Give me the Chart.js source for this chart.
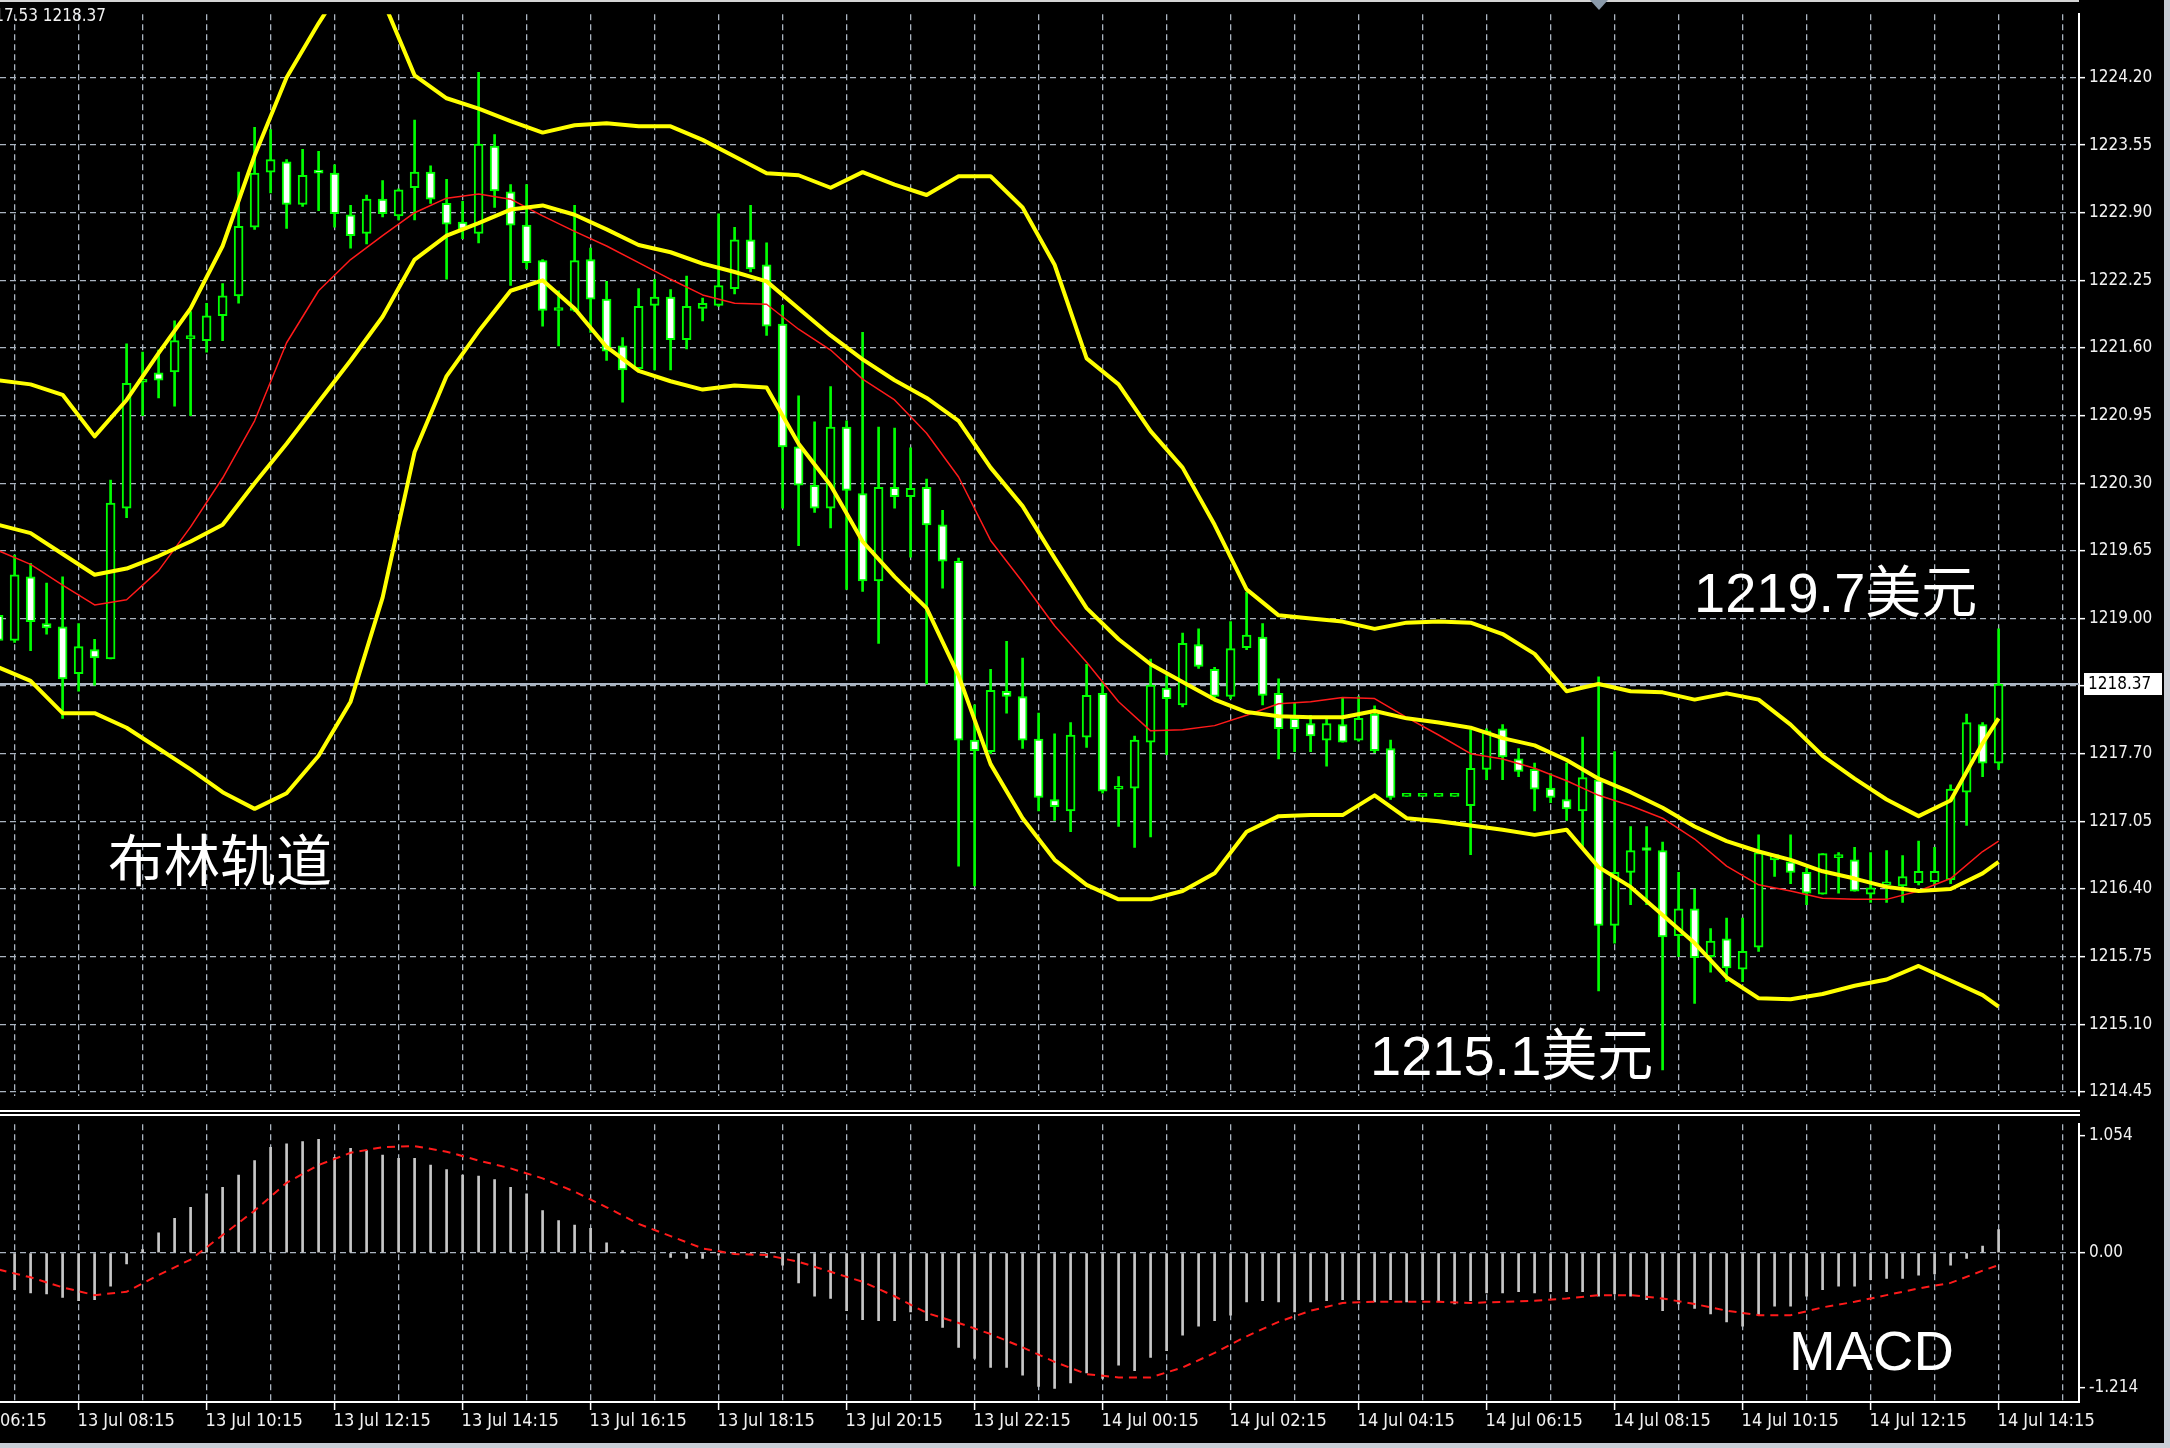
<!DOCTYPE html>
<html lang="zh">
<head>
<meta charset="utf-8">
<title>XAUUSD M15 布林轨道 MACD</title>
<script src="https://cdn.jsdelivr.net/npm/chart.js@4.4.1/dist/chart.umd.min.js"></script>
<style>
  html, body { margin: 0; padding: 0; background: #000; }
  #frame { position: relative; width: 2170px; height: 1448px; background: #000; overflow: hidden; }
  #priceChart { position: absolute; left: 0; top: 0; }
  #macdChart { position: absolute; left: 0; top: 1110px; }
  #edgeRight { position: absolute; left: 2164px; top: 0; width: 6px; height: 1448px; background: #c9ced6; }
  #edgeBottom { position: absolute; left: 0; top: 1443px; width: 2170px; height: 5px; background: #c9ced6; }
</style>
</head>
<body>
<div id="frame">
  <canvas id="priceChart" width="2170" height="1110"></canvas>
  <canvas id="macdChart" width="2170" height="338"></canvas>
  <div id="edgeRight"></div>
  <div id="edgeBottom"></div>
</div>
<script>
/* XAUUSD M15: 蜡烛图 + 布林轨道 + MACD，两块面板共用同一根时间轴（K线序号） */

// K线：13 Jul 07:00 起，每根 15 分钟，最后一根 14 Jul 14:15
const opens = [
  1219.03, 1218.79, 1219.40, 1218.95, 1218.92, 1218.47, 1218.70, 1218.61, 1220.06, 1221.27,
  1221.36, 1221.37, 1221.69, 1221.67, 1221.91, 1222.10, 1222.76, 1223.29, 1223.39, 1222.98,
  1223.29, 1223.28, 1222.88, 1222.70, 1223.03, 1222.87, 1223.14, 1223.29, 1222.99, 1222.81,
  1222.70, 1223.54, 1223.10, 1222.78, 1222.44, 1221.96, 1221.96, 1222.45, 1222.07, 1221.62,
  1221.40, 1222.01, 1222.09, 1221.68, 1221.98, 1222.01, 1222.17, 1222.64, 1222.40, 1221.83,
  1220.65, 1220.28, 1220.06, 1220.84, 1220.20, 1219.36, 1220.26, 1220.17, 1220.26, 1219.90,
  1219.55, 1217.83, 1217.72, 1218.30, 1218.25, 1217.84, 1217.26, 1217.15, 1217.86, 1218.28,
  1217.36, 1217.37, 1217.81, 1218.33, 1218.17, 1218.75, 1218.51, 1218.25, 1218.72, 1218.82,
  1218.28, 1218.04, 1217.99, 1217.83, 1217.98, 1217.83, 1218.08, 1217.75, 1217.29, 1217.29,
  1217.29, 1217.29, 1217.20, 1217.55, 1217.94, 1217.65, 1217.55, 1217.37, 1217.26, 1217.15,
  1217.45, 1216.05, 1216.56, 1216.79, 1216.77, 1215.95, 1216.21, 1215.75, 1215.92, 1215.63,
  1215.84, 1216.68, 1216.66, 1216.56, 1216.35, 1216.70, 1216.68, 1216.35, 1216.44, 1216.43,
  1216.46, 1216.47, 1216.49, 1217.33, 1217.98, 1217.61
];
const highs = [
  1219.10, 1219.61, 1219.53, 1219.34, 1219.40, 1218.95, 1218.80, 1220.33, 1221.64, 1221.56,
  1221.58, 1221.86, 1221.95, 1222.03, 1222.22, 1223.29, 1223.72, 1223.70, 1223.41, 1223.51,
  1223.49, 1223.36, 1222.97, 1223.07, 1223.21, 1223.13, 1223.79, 1223.35, 1223.22, 1223.01,
  1224.25, 1223.65, 1223.17, 1223.17, 1222.45, 1222.15, 1222.97, 1222.56, 1222.24, 1221.70,
  1222.17, 1222.26, 1222.16, 1222.29, 1222.08, 1222.89, 1222.76, 1222.97, 1222.61, 1222.01,
  1221.14, 1220.89, 1221.23, 1220.90, 1221.75, 1220.84, 1220.83, 1220.64, 1220.34, 1220.04,
  1219.58, 1218.17, 1218.51, 1218.78, 1218.62, 1218.09, 1217.89, 1218.00, 1218.56, 1218.39,
  1217.48, 1217.87, 1218.61, 1218.45, 1218.86, 1218.90, 1218.53, 1218.97, 1219.25, 1218.95,
  1218.42, 1218.19, 1218.07, 1218.06, 1218.24, 1218.25, 1218.16, 1217.83, 1217.29, 1217.29,
  1217.29, 1217.29, 1217.93, 1217.94, 1217.98, 1217.75, 1217.61, 1217.51, 1217.61, 1217.86,
  1218.44, 1217.72, 1217.00, 1217.00, 1216.85, 1216.56, 1216.40, 1216.02, 1216.12, 1216.12,
  1216.92, 1216.73, 1216.92, 1216.60, 1216.74, 1216.75, 1216.80, 1216.75, 1216.77, 1216.72,
  1216.86, 1216.80, 1217.40, 1218.08, 1218.00, 1218.90
];
const lows = [
  1218.75, 1218.77, 1218.69, 1218.85, 1218.04, 1218.30, 1218.36, 1218.61, 1219.97, 1220.95,
  1221.12, 1221.04, 1220.95, 1221.56, 1221.67, 1222.03, 1222.74, 1223.09, 1222.75, 1222.96,
  1222.92, 1222.76, 1222.56, 1222.60, 1222.86, 1222.83, 1222.83, 1222.99, 1222.26, 1222.65,
  1222.61, 1222.95, 1222.20, 1222.36, 1221.81, 1221.62, 1221.95, 1221.75, 1221.48, 1221.08,
  1221.39, 1221.39, 1221.39, 1221.59, 1221.86, 1222.00, 1222.12, 1222.33, 1221.72, 1220.06,
  1219.70, 1220.02, 1219.87, 1219.28, 1219.26, 1218.76, 1220.06, 1219.59, 1218.37, 1219.29,
  1216.62, 1216.43, 1217.70, 1218.09, 1217.75, 1217.15, 1217.06, 1216.95, 1217.76, 1217.32,
  1217.00, 1216.80, 1216.90, 1217.69, 1218.15, 1218.52, 1218.24, 1218.23, 1218.70, 1218.17,
  1217.65, 1217.72, 1217.72, 1217.58, 1217.81, 1217.82, 1217.71, 1217.26, 1217.29, 1217.29,
  1217.29, 1217.29, 1216.73, 1217.45, 1217.45, 1217.48, 1217.15, 1217.23, 1217.06, 1216.80,
  1215.42, 1215.88, 1216.25, 1216.25, 1214.66, 1215.75, 1215.30, 1215.60, 1215.51, 1215.51,
  1215.80, 1216.52, 1216.45, 1216.25, 1216.35, 1216.36, 1216.38, 1216.27, 1216.27, 1216.27,
  1216.44, 1216.44, 1216.45, 1217.01, 1217.48, 1217.55
];
const closes = [
  1218.79, 1219.42, 1218.97, 1218.91, 1218.42, 1218.73, 1218.62, 1220.11, 1221.26, 1221.29,
  1221.29, 1221.67, 1221.70, 1221.91, 1222.10, 1222.77, 1223.28, 1223.41, 1222.98, 1223.26,
  1223.28, 1222.89, 1222.68, 1223.03, 1222.89, 1223.12, 1223.29, 1223.03, 1222.79, 1222.74,
  1223.56, 1223.11, 1222.78, 1222.42, 1221.96, 1221.96, 1222.44, 1222.07, 1221.57, 1221.39,
  1222.00, 1222.09, 1221.68, 1222.00, 1222.03, 1222.20, 1222.64, 1222.36, 1221.81, 1220.65,
  1220.28, 1220.06, 1220.84, 1220.23, 1219.36, 1220.26, 1220.17, 1220.25, 1219.90, 1219.55,
  1217.83, 1217.73, 1218.31, 1218.25, 1217.83, 1217.28, 1217.19, 1217.88, 1218.26, 1217.34,
  1217.36, 1217.83, 1218.36, 1218.23, 1218.76, 1218.54, 1218.25, 1218.71, 1218.84, 1218.26,
  1217.94, 1217.94, 1217.87, 1217.99, 1217.81, 1218.04, 1217.73, 1217.28, 1217.29, 1217.29,
  1217.29, 1217.29, 1217.56, 1217.92, 1217.67, 1217.53, 1217.36, 1217.28, 1217.17, 1217.47,
  1216.05, 1216.56, 1216.77, 1216.77, 1215.94, 1216.21, 1215.74, 1215.90, 1215.64, 1215.80,
  1216.75, 1216.73, 1216.56, 1216.36, 1216.74, 1216.73, 1216.38, 1216.41, 1216.44, 1216.52,
  1216.57, 1216.57, 1217.36, 1218.00, 1217.61, 1218.37
];

// 指标线按每两根K线读取一次
const bandBars = [
  0, 2, 4, 6, 8, 10, 12, 14, 16, 18, 20, 22, 24, 26, 28, 30, 32, 34, 36, 38,
  40, 42, 44, 46, 48, 50, 52, 54, 56, 58, 60, 62, 64, 66, 68, 70, 72, 74, 76, 78,
  80, 82, 84, 86, 88, 90, 92, 94, 96, 98, 100, 102, 104, 106, 108, 110, 112, 114, 116, 118,
  120, 122, 124, 125
];
const upperBand = [
  1221.29, 1221.25, 1221.15, 1220.75, 1221.10, 1221.55, 1221.98, 1222.58, 1223.45, 1224.20,
  1224.72, 1225.20, 1224.95, 1224.22, 1224.00, 1223.90, 1223.78, 1223.67, 1223.74, 1223.76,
  1223.73, 1223.73, 1223.60, 1223.44, 1223.28, 1223.26, 1223.14, 1223.29, 1223.17, 1223.07,
  1223.25, 1223.25, 1222.95, 1222.40, 1221.50, 1221.25, 1220.80, 1220.45, 1219.90, 1219.28,
  1219.03, 1219.00, 1218.97, 1218.90, 1218.96, 1218.97, 1218.96, 1218.85, 1218.66, 1218.30,
  1218.37, 1218.30, 1218.29, 1218.22, 1218.28, 1218.22, 1217.98, 1217.68, 1217.46, 1217.26,
  1217.10, 1217.25, 1217.80, 1218.04
];
const middleBand = [
  1219.90, 1219.82, 1219.62, 1219.42, 1219.48, 1219.60, 1219.74, 1219.90, 1220.30, 1220.68,
  1221.08, 1221.48, 1221.90, 1222.45, 1222.68, 1222.80, 1222.93, 1222.97, 1222.88, 1222.74,
  1222.59, 1222.52, 1222.41, 1222.33, 1222.24, 1221.98, 1221.72, 1221.49, 1221.29, 1221.12,
  1220.90, 1220.45, 1220.08, 1219.58, 1219.10, 1218.80, 1218.56, 1218.39, 1218.22, 1218.10,
  1218.06, 1218.05, 1218.05, 1218.11, 1218.04, 1218.00, 1217.95, 1217.85, 1217.78, 1217.64,
  1217.46, 1217.33, 1217.18, 1217.00, 1216.86, 1216.76, 1216.68, 1216.57, 1216.50, 1216.42,
  1216.38, 1216.40, 1216.55, 1216.66
];
const lowerBand = [
  1218.53, 1218.40, 1218.09, 1218.09, 1217.95, 1217.75, 1217.55, 1217.33, 1217.17, 1217.32,
  1217.68, 1218.20, 1219.20, 1220.60, 1221.33, 1221.76, 1222.15, 1222.25, 1221.98, 1221.61,
  1221.38, 1221.28, 1221.20, 1221.24, 1221.22, 1220.68, 1220.28, 1219.74, 1219.40, 1219.10,
  1218.45, 1217.60, 1217.08, 1216.68, 1216.44, 1216.30, 1216.30, 1216.38, 1216.55, 1216.95,
  1217.10, 1217.11, 1217.11, 1217.30, 1217.08, 1217.05, 1217.01, 1216.97, 1216.92, 1216.97,
  1216.61, 1216.42, 1216.15, 1215.88, 1215.55, 1215.35, 1215.34, 1215.39, 1215.47, 1215.53,
  1215.66, 1215.52, 1215.38, 1215.27
];
const redLine = [
  1219.65, 1219.52, 1219.32, 1219.13, 1219.18, 1219.46, 1219.88, 1220.35, 1220.90, 1221.65,
  1222.15, 1222.45, 1222.68, 1222.90, 1223.04, 1223.08, 1223.03, 1222.87, 1222.72, 1222.58,
  1222.42, 1222.26, 1222.11, 1222.03, 1222.02, 1221.78, 1221.58, 1221.30, 1221.10, 1220.78,
  1220.36, 1219.75, 1219.35, 1218.93, 1218.58, 1218.20, 1217.92, 1217.93, 1217.97, 1218.07,
  1218.18, 1218.20, 1218.24, 1218.23, 1218.05, 1217.88, 1217.70, 1217.65, 1217.56, 1217.44,
  1217.30, 1217.20, 1217.08, 1216.88, 1216.62, 1216.44, 1216.38, 1216.31, 1216.30, 1216.30,
  1216.38, 1216.50, 1216.76, 1216.86
];

// MACD：柱状（每根K线）与信号线（每两根）
const macdHist = [
  -0.31, -0.33, -0.36, -0.37, -0.40, -0.43, -0.42, -0.30, -0.10, 0.03,
  0.18, 0.31, 0.41, 0.53, 0.59, 0.70, 0.83, 0.95, 0.98, 1.00,
  1.02, 0.86, 0.94, 0.92, 0.88, 0.85, 0.85, 0.79, 0.75, 0.70,
  0.69, 0.66, 0.59, 0.53, 0.38, 0.29, 0.25, 0.22, 0.09, 0.02,
  0.01, 0.00, -0.04, -0.05, -0.05, -0.02, -0.01, -0.01, -0.04, -0.11,
  -0.27, -0.39, -0.41, -0.52, -0.60, -0.61, -0.61, -0.53, -0.61, -0.67,
  -0.85, -0.95, -1.03, -1.03, -1.10, -1.20, -1.22, -1.17, -1.08, -1.13,
  -1.01, -1.06, -0.94, -0.88, -0.74, -0.66, -0.61, -0.56, -0.44, -0.43,
  -0.44, -0.53, -0.44, -0.43, -0.42, -0.42, -0.44, -0.42, -0.44, -0.42,
  -0.43, -0.46, -0.43, -0.36, -0.36, -0.35, -0.36, -0.35, -0.35, -0.35,
  -0.39, -0.37, -0.39, -0.42, -0.52, -0.46, -0.50, -0.55, -0.62, -0.66,
  -0.56, -0.48, -0.48, -0.39, -0.33, -0.30, -0.30, -0.24, -0.23, -0.23,
  -0.20, -0.19, -0.11, -0.05, 0.06, 0.21
];
const signalLine = [
  -0.15, -0.22, -0.31, -0.38, -0.35, -0.20, -0.06, 0.16, 0.38, 0.63,
  0.79, 0.90, 0.95, 0.96, 0.91, 0.83, 0.76, 0.67, 0.55, 0.41,
  0.26, 0.15, 0.04, -0.01, -0.02, -0.08, -0.17, -0.26, -0.39, -0.54,
  -0.63, -0.73, -0.85, -0.98, -1.09, -1.12, -1.12, -1.03, -0.90, -0.75,
  -0.62, -0.52, -0.45, -0.44, -0.44, -0.44, -0.45, -0.44, -0.43, -0.41,
  -0.38, -0.38, -0.41, -0.46, -0.52, -0.56, -0.56, -0.49, -0.44, -0.38,
  -0.32, -0.27, -0.16, -0.11
];

// 坐标轴刻度
const priceTicks = [
  1224.20, 1223.55, 1222.90, 1222.25, 1221.60, 1220.95, 1220.30, 1219.65,
  1219.00, 1218.35, 1217.70, 1217.05, 1216.40, 1215.75, 1215.10, 1214.45
];
const macdTicks = [1.054, 0, -1.214];
const macdTickLabels = ['1.054', '0.00', '-1.214'];
const hourBars = [
  1, 5, 9, 13, 17, 21, 25, 29, 33, 37, 41, 45, 49, 53, 57, 61, 65,
  69, 73, 77, 81, 85, 89, 93, 97, 101, 105, 109, 113, 117, 121, 125, 129
];
const timeLabelBars = [-3, 5, 13, 21, 29, 37, 45, 53, 61, 69, 77, 85, 93, 101, 109, 117, 125];
const timeLabels = [
  '13 Jul 06:15', '13 Jul 08:15', '13 Jul 10:15', '13 Jul 12:15', '13 Jul 14:15',
  '13 Jul 16:15', '13 Jul 18:15', '13 Jul 20:15', '13 Jul 22:15', '14 Jul 00:15',
  '14 Jul 02:15', '14 Jul 04:15', '14 Jul 06:15', '14 Jul 08:15', '14 Jul 10:15',
  '14 Jul 12:15', '14 Jul 14:15'
];
const headerText = '1217.53 1218.37';
const bandTitle = '布林轨道';
const highNote = '1219.7美元';
const lowNote = '1215.1美元';
const macdTitle = 'MACD';

// 视图范围（K线序号 / 价格）
const X_MIN = 0.0875, X_MAX = 130.025;
const PRICE_MIN = 1214.412, PRICE_MAX = 1224.808;
const MACD_MIN = -1.332, MACD_MAX = 1.157;

const GREEN = '#00ff00';
const YELLOW = '#ffff00';
const RED = '#ff1a1a';
const GRID = '#aab4c0';
const TEXT = '#f2f2f2';
const AXIS_FONT = "'DejaVu Sans Condensed', 'DejaVu Sans', sans-serif";
const NOTE_FONT = "56px 'Liberation Sans', 'Noto Sans CJK SC', sans-serif";

const barIdx = opens.map((_, i) => i);
const lastPrice = closes[closes.length - 1];
const toPoints = (values) => bandBars.map((k, i) => ({ x: k, y: values[i] }));

const lineSet = (values, color, width, order) => ({
  type: 'line',
  data: toPoints(values),
  borderColor: color,
  borderWidth: width,
  pointRadius: 0,
  tension: 0,
  borderJoinStyle: 'round',
  order
});

const timeAxis = {
  type: 'linear',
  min: X_MIN,
  max: X_MAX,
  offset: false,
  afterBuildTicks: (axis) => { axis.ticks = hourBars.map(v => ({ value: v })); },
  afterFit: (axis) => { axis.height = 0; },
  ticks: { display: false },
  grid: { color: GRID, lineWidth: 1.3, drawTicks: false, offset: false },
  border: { display: false, dash: [6, 4] }
};

const pricePaneDecor = {
  id: 'pricePaneDecor',
  beforeDatasetsDraw(chart) {
    const { ctx, chartArea: a, scales: { y } } = chart;
    const py = y.getPixelForValue(lastPrice);
    ctx.save();
    ctx.strokeStyle = '#a9b4c2';
    ctx.lineWidth = 2;
    ctx.beginPath();
    ctx.moveTo(a.left, py);
    ctx.lineTo(a.right, py);
    ctx.stroke();
    ctx.restore();
  },
  afterDraw(chart) {
    const { ctx, chartArea: a, scales: { y } } = chart;
    const py = y.getPixelForValue(lastPrice);
    ctx.save();
    // 顶边
    ctx.fillStyle = '#d4d4d4';
    ctx.fillRect(0, 0, a.right, 2);
    // 图表平移标记
    ctx.fillStyle = '#8a9aaa';
    ctx.beginPath();
    ctx.moveTo(1590, 0); ctx.lineTo(1608, 0); ctx.lineTo(1599, 10);
    ctx.closePath(); ctx.fill();
    // 当前价标签
    ctx.fillStyle = '#ffffff';
    ctx.fillRect(a.right + 5, py - 11, 78, 22);
    ctx.fillStyle = '#000000';
    ctx.font = '17px ' + AXIS_FONT;
    ctx.textBaseline = 'middle';
    ctx.textAlign = 'left';
    ctx.fillText(lastPrice.toFixed(2), a.right + 9, py + 1);
    // 左上角报价
    ctx.fillStyle = TEXT;
    ctx.textAlign = 'right';
    ctx.fillText(headerText, 106, 17);
    // 标注文字
    ctx.font = NOTE_FONT;
    ctx.fillStyle = '#ffffff';
    ctx.textAlign = 'left';
    ctx.textBaseline = 'middle';
    ctx.fillText(bandTitle, 108, 866);
    ctx.textBaseline = 'alphabetic';
    ctx.fillText(highNote, 1694, 612);
    ctx.fillText(lowNote, 1370, 1075);
    ctx.restore();
  }
};

new Chart(document.getElementById('priceChart'), {
  type: 'bar',
  data: {
    datasets: [
      lineSet(upperBand, YELLOW, 4, 0),
      lineSet(middleBand, YELLOW, 4, 0),
      lineSet(lowerBand, YELLOW, 4, 0),
      lineSet(redLine, RED, 1.5, 0.5),
      {
        data: barIdx.map(i => ({ x: i, y: [opens[i], closes[i]] })),
        backgroundColor: barIdx.map(i => closes[i] < opens[i] ? '#ffffff' : '#000000'),
        borderColor: GREEN,
        borderWidth: 2,
        borderSkipped: false,
        barThickness: 9,
        minBarLength: 3,
        grouped: false,
        order: 1
      },
      {
        data: barIdx.map(i => ({ x: i, y: [lows[i], highs[i]] })),
        backgroundColor: GREEN,
        borderWidth: 0,
        barThickness: 2,
        grouped: false,
        order: 2
      }
    ]
  },
  options: {
    responsive: false,
    animation: false,
    devicePixelRatio: 1,
    layout: { padding: { top: 2, bottom: 1, left: 0, right: 0 } },
    plugins: { legend: { display: false }, tooltip: { enabled: false } },
    scales: {
      x: timeAxis,
      y: {
        position: 'right',
        min: PRICE_MIN,
        max: PRICE_MAX,
        afterBuildTicks: (axis) => { axis.ticks = priceTicks.map(v => ({ value: v })); },
        afterFit: (axis) => { axis.width = 91; },
        ticks: {
          color: TEXT,
          font: { family: AXIS_FONT, size: 17 },
          padding: 4,
          autoSkip: false,
          callback: (v) => Number(v).toFixed(2)
        },
        grid: { color: GRID, lineWidth: 1.3, tickColor: '#ffffff', tickLength: 6, tickWidth: 1.5, tickBorderDash: [] },
        border: { display: true, color: '#ffffff', width: 2, dash: [6, 4] }
      }
    }
  },
  plugins: [pricePaneDecor]
});

const macdPaneDecor = {
  id: 'macdPaneDecor',
  afterDraw(chart) {
    const { ctx, chartArea: a, scales: { x } } = chart;
    ctx.save();
    ctx.strokeStyle = '#ffffff';
    ctx.lineWidth = 2;
    ctx.beginPath();
    ctx.moveTo(0, 1); ctx.lineTo(a.right + 1, 1);
    ctx.moveTo(0, 5); ctx.lineTo(a.right + 1, 5);
    ctx.moveTo(0, a.bottom + 1); ctx.lineTo(a.right + 1, a.bottom + 1);
    ctx.stroke();
    ctx.font = '18px ' + AXIS_FONT;
    ctx.fillStyle = TEXT;
    ctx.textAlign = 'left';
    ctx.textBaseline = 'middle';
    ctx.lineWidth = 1.5;
    timeLabelBars.forEach((k, i) => {
      const px = x.getPixelForValue(k);
      ctx.beginPath();
      ctx.moveTo(px, a.bottom + 1);
      ctx.lineTo(px, a.bottom + 9);
      ctx.stroke();
      ctx.fillText(timeLabels[i], px - 1, a.bottom + 20);
    });
    ctx.font = NOTE_FONT;
    ctx.fillStyle = '#ffffff';
    ctx.textBaseline = 'alphabetic';
    ctx.fillText(macdTitle, 1789, 260);
    ctx.restore();
  }
};

new Chart(document.getElementById('macdChart'), {
  type: 'bar',
  data: {
    datasets: [
      {
        type: 'line',
        data: toPoints(signalLine),
        borderColor: RED,
        borderWidth: 2,
        borderDash: [8, 6],
        pointRadius: 0,
        tension: 0,
        order: 0
      },
      {
        data: macdHist.map((v, i) => ({ x: i, y: v })),
        backgroundColor: '#c8c8c8',
        borderWidth: 0,
        barThickness: 2,
        grouped: false,
        order: 1
      }
    ]
  },
  options: {
    responsive: false,
    animation: false,
    devicePixelRatio: 1,
    layout: { padding: { top: 6, bottom: 47, left: 0, right: 0 } },
    plugins: { legend: { display: false }, tooltip: { enabled: false } },
    scales: {
      x: timeAxis,
      y: {
        position: 'right',
        min: MACD_MIN,
        max: MACD_MAX,
        afterBuildTicks: (axis) => { axis.ticks = macdTicks.map(v => ({ value: v })); },
        afterFit: (axis) => { axis.width = 91; },
        ticks: {
          color: TEXT,
          font: { family: AXIS_FONT, size: 17 },
          padding: 4,
          autoSkip: false,
          callback: (v, i) => macdTickLabels[i]
        },
        grid: {
          color: (c) => (c.tick && c.tick.value === 0 ? GRID : 'rgba(0,0,0,0)'),
          lineWidth: 1.3,
          tickColor: '#ffffff',
          tickLength: 6,
          tickWidth: 1.5,
          tickBorderDash: []
        },
        border: { display: true, color: '#ffffff', width: 2, dash: [6, 4] }
      }
    }
  },
  plugins: [macdPaneDecor]
});
</script>
</body>
</html>
